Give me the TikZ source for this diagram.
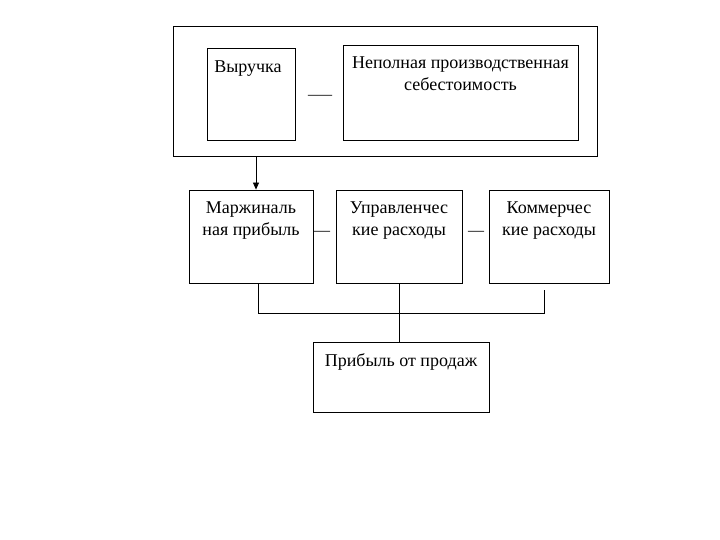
\documentclass[tikz,border=0pt]{standalone}
\usepackage{fontspec}
\setmainfont{Liberation Serif}
\usetikzlibrary{arrows.meta,positioning}
\tikzset{
  cell/.style  = {rectangle, draw, line width=0.8pt, inner sep=0pt},
  txt/.style   = {align=center, inner sep=1pt, font=\fontsize{18}{22}\selectfont},
  minus/.style = {inner sep=0pt, font=\fontsize{16}{20}\selectfont},
  flow/.style  = {-{Triangle[length=7pt,width=6pt]}, line width=0.8pt},
  wire/.style  = {line width=0.8pt},
}
\begin{document}
\begin{tikzpicture}[x=1pt,y=-1pt]
\useasboundingbox (0,0) rectangle (720,540);
% top group
\node[cell, minimum width=424pt, minimum height=130pt] (grp) at (385,91) {};
\node[cell, minimum width=88pt, minimum height=92pt] (rev) at (251,94) {};
\node[cell, minimum width=235pt, minimum height=95pt] (npc) at (460.5,92.5) {};
\node[txt, below=12pt of rev.north, xshift=-3pt] (revt) {Выручка};
\node[txt, below=11pt of npc.north] (npct) {Неполная производственная\\себестоимость};
\node[minus, xscale=1.5] (m0) at (320,97) {—};
% middle row
\node[cell, minimum width=124pt, minimum height=93pt] (marg) at (251,236.5) {};
\node[cell, minimum width=126pt, minimum height=93pt] (upr) at (399,236.5) {};
\node[cell, minimum width=120pt, minimum height=93pt] (comm) at (549,236.5) {};
\node[txt, below=11pt of marg.north] (margt) {Маржиналь\\ная прибыль};
\node[txt, below=11pt of upr.north] (uprt) {Управленчес\\кие расходы};
\node[txt, below=11pt of comm.north] (commt) {Коммерчес\\кие расходы};
\node[minus] (m1) at (322,233) {—};
\node[minus] (m2) at (476,233) {—};
% result
\node[cell, minimum width=176pt, minimum height=70pt] (prib) at (401,377) {};
\node[txt, below=11pt of prib.north] (pribt) {Прибыль от продаж};

\coordinate (busL) at (258,313);
\coordinate (busR) at (544,313);
\draw[flow] ([xshift=5pt]grp.south -| rev) -- ([xshift=5pt]marg.north);
\draw[wire] (marg.south -| busL) -- (busL) -- (busR) -- ([yshift=-7pt]comm.south -| busR);
\draw[wire] (upr.south) -- (upr.south |- prib.north);
\end{tikzpicture}
\end{document}
